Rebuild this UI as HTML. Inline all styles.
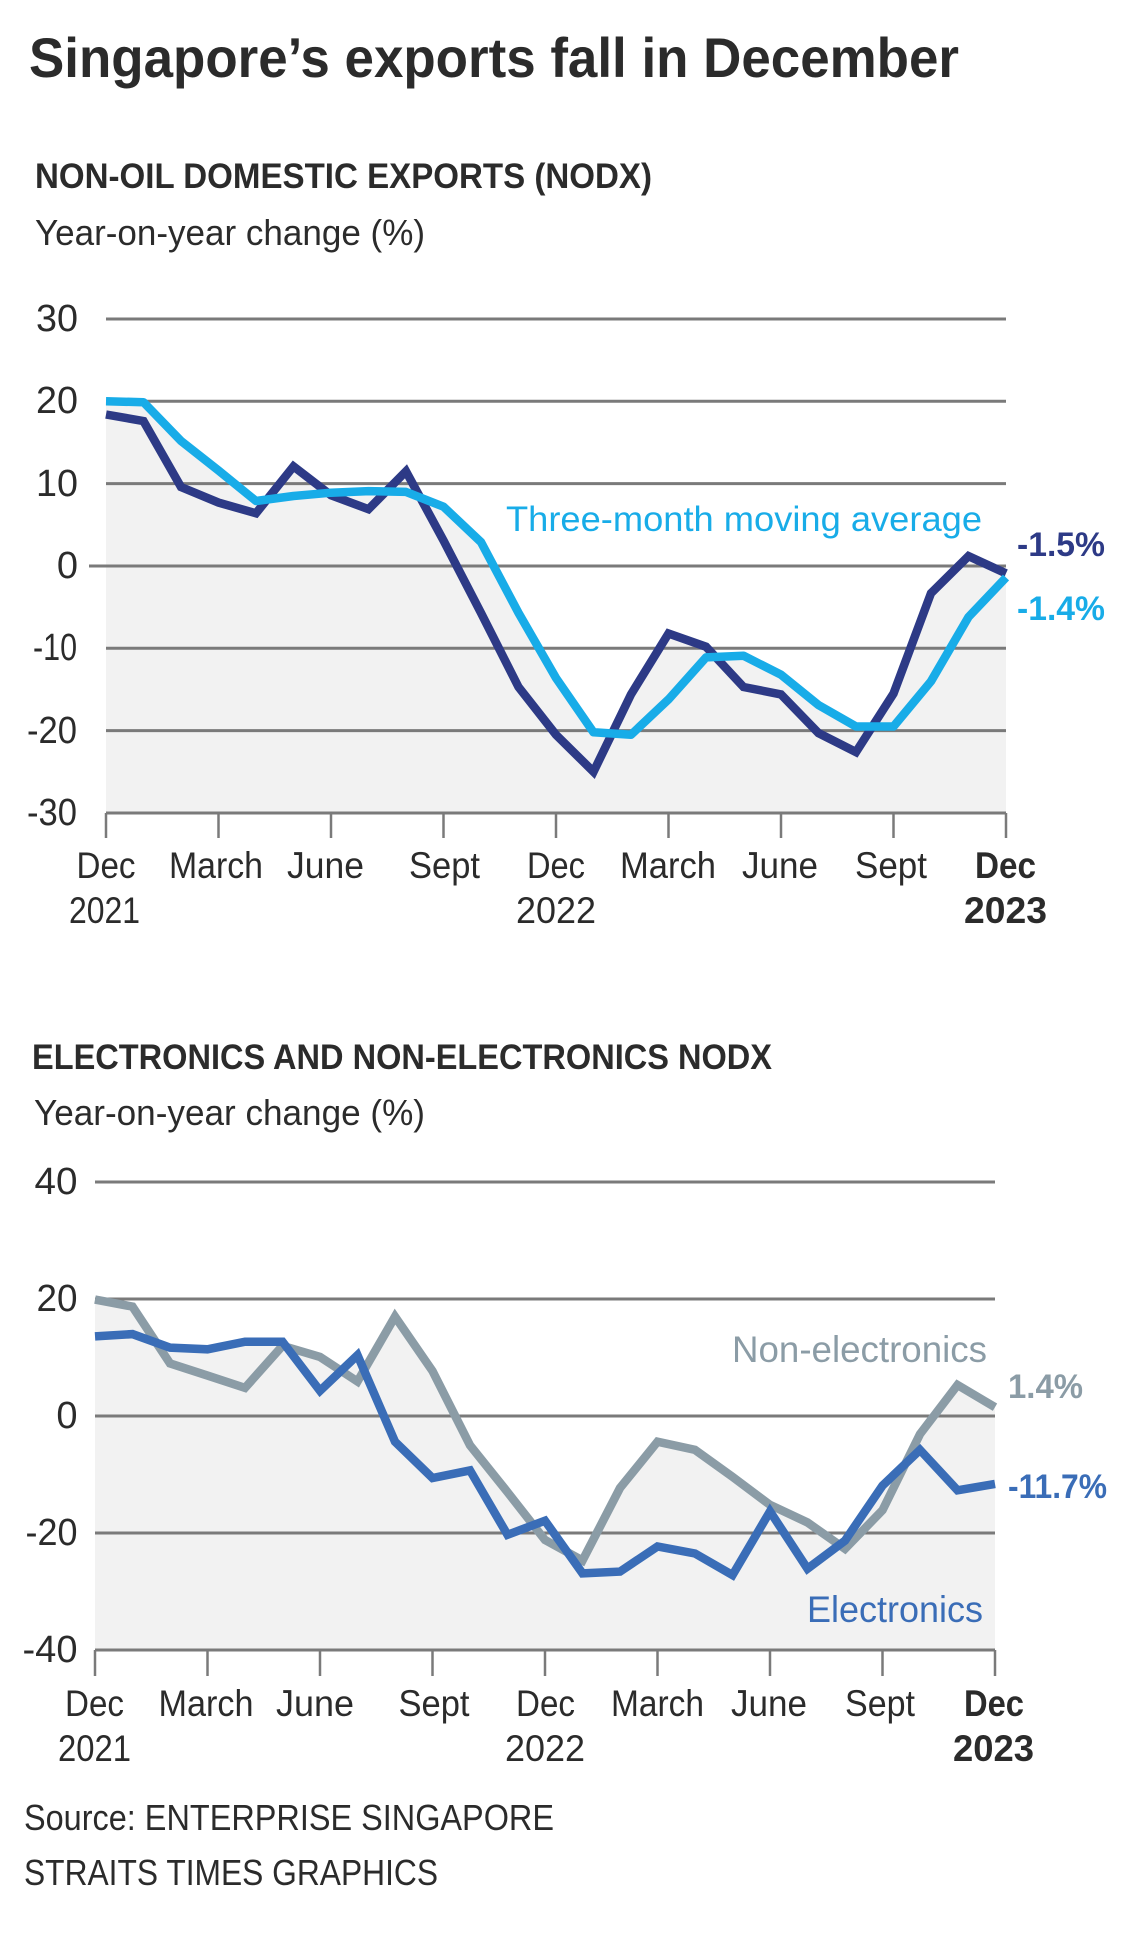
<!DOCTYPE html>
<html>
<head>
<meta charset="utf-8">
<style>
html,body{margin:0;padding:0;background:#fff;}
svg{display:block;}
text{font-family:"Liberation Sans",Arial,sans-serif;fill:#2b2b2b;}
.b{font-weight:bold;}
</style>
</head>
<body>
<svg width="1140" height="1934" viewBox="0 0 1140 1934" xmlns="http://www.w3.org/2000/svg">
<rect width="1140" height="1934" fill="#fff"/>

<!-- Title -->
<text x="29" y="77" font-size="56" class="b" textLength="930" lengthAdjust="spacingAndGlyphs">Singapore’s exports fall in December</text>

<!-- Chart 1 headings -->
<text x="35" y="188" font-size="35" class="b" textLength="617" lengthAdjust="spacingAndGlyphs">NON-OIL DOMESTIC EXPORTS (NODX)</text>
<text x="35" y="245" font-size="36" textLength="390" lengthAdjust="spacingAndGlyphs">Year-on-year change (%)</text>

<!-- Chart 1 fill -->
<g fill="#f2f2f2">
<polygon points="106,414.5 143.5,421.1 181,487 218.5,502.6 256,513.3 293.5,466.4 331,495.2 368.5,509.2 406,471.3 443.5,540.5 481,612.9 518.5,687 556,734.8 593.5,771.8 631,694.4 668.5,633.5 706,646.7 743.5,687 781,694.4 818.5,733.1 856,752.1 893.5,693.6 931,593.2 968.5,556.1 1006,573.4 1006,813 106,813"/>
<polygon points="106,401.3 143.5,402.2 181,440.9 218.5,470.5 256,501 293.5,496 331,492.7 368.5,491.1 406,491.9 443.5,506.7 481,542.1 518.5,612.9 556,678 593.5,732.3 631,734.8 668.5,699.4 706,657.4 743.5,655.7 781,674.7 818.5,705.1 856,726.5 893.5,726.5 931,681.3 968.5,617 1006,577.5 1006,813 106,813"/>
</g>

<!-- Chart 1 gridlines -->
<g stroke="#7a7a7a" stroke-width="3">
<line x1="106" y1="319" x2="1006" y2="319"/>
<line x1="106" y1="401.3" x2="1006" y2="401.3"/>
<line x1="106" y1="483.6" x2="1006" y2="483.6"/>
<line x1="89" y1="566" x2="1006" y2="566"/>
<line x1="106" y1="648.3" x2="1006" y2="648.3"/>
<line x1="106" y1="730.6" x2="1006" y2="730.6"/>
<line x1="106" y1="813" x2="1006" y2="813"/>
</g>
<g stroke="#7a7a7a" stroke-width="2.5">
<line x1="106" y1="813" x2="106" y2="838"/>
<line x1="218.5" y1="813" x2="218.5" y2="838"/>
<line x1="331" y1="813" x2="331" y2="838"/>
<line x1="443.5" y1="813" x2="443.5" y2="838"/>
<line x1="556" y1="813" x2="556" y2="838"/>
<line x1="668.5" y1="813" x2="668.5" y2="838"/>
<line x1="781" y1="813" x2="781" y2="838"/>
<line x1="893.5" y1="813" x2="893.5" y2="838"/>
<line x1="1006" y1="813" x2="1006" y2="838"/>
</g>

<!-- Chart 1 y labels -->
<g font-size="38" text-anchor="end">
<text x="78" y="331" textLength="42" lengthAdjust="spacingAndGlyphs">30</text>
<text x="78" y="413" textLength="42" lengthAdjust="spacingAndGlyphs">20</text>
<text x="78" y="496" textLength="42" lengthAdjust="spacingAndGlyphs">10</text>
<text x="78" y="578">0</text>
<text x="77" y="660" textLength="44" lengthAdjust="spacingAndGlyphs">-10</text>
<text x="77" y="743" textLength="50" lengthAdjust="spacingAndGlyphs">-20</text>
<text x="77" y="825" textLength="50" lengthAdjust="spacingAndGlyphs">-30</text>
</g>

<!-- Chart 1 x labels -->
<g font-size="37" text-anchor="middle">
<text x="106" y="878" textLength="59" lengthAdjust="spacingAndGlyphs">Dec</text>
<text x="104.5" y="923" textLength="71" lengthAdjust="spacingAndGlyphs">2021</text>
<text x="216" y="878" textLength="94" lengthAdjust="spacingAndGlyphs">March</text>
<text x="325.5" y="878" textLength="77" lengthAdjust="spacingAndGlyphs">June</text>
<text x="444.5" y="878" textLength="71" lengthAdjust="spacingAndGlyphs">Sept</text>
<text x="556" y="878" textLength="58" lengthAdjust="spacingAndGlyphs">Dec</text>
<text x="556" y="923" textLength="80" lengthAdjust="spacingAndGlyphs">2022</text>
<text x="668" y="878" textLength="96" lengthAdjust="spacingAndGlyphs">March</text>
<text x="780" y="878" textLength="76" lengthAdjust="spacingAndGlyphs">June</text>
<text x="891" y="878" textLength="72" lengthAdjust="spacingAndGlyphs">Sept</text>
<text x="1005.5" y="878" class="b" textLength="61" lengthAdjust="spacingAndGlyphs">Dec</text>
<text x="1005.5" y="923" class="b" textLength="83" lengthAdjust="spacingAndGlyphs">2023</text>
</g>

<!-- Chart 1 series -->
<polyline fill="none" stroke="#2d3a86" stroke-width="8.5" stroke-linejoin="miter" points="106,414.5 143.5,421.1 181,487 218.5,502.6 256,513.3 293.5,466.4 331,495.2 368.5,509.2 406,471.3 443.5,540.5 481,612.9 518.5,687 556,734.8 593.5,771.8 631,694.4 668.5,633.5 706,646.7 743.5,687 781,694.4 818.5,733.1 856,752.1 893.5,693.6 931,593.2 968.5,556.1 1006,573.4"/>
<polyline fill="none" stroke="#18ace8" stroke-width="8.5" stroke-linejoin="round" points="106,401.3 143.5,402.2 181,440.9 218.5,470.5 256,501 293.5,496 331,492.7 368.5,491.1 406,491.9 443.5,506.7 481,542.1 518.5,612.9 556,678 593.5,732.3 631,734.8 668.5,699.4 706,657.4 743.5,655.7 781,674.7 818.5,705.1 856,726.5 893.5,726.5 931,681.3 968.5,617 1006,577.5"/>

<!-- Chart 1 annotations -->
<text x="506" y="531" font-size="35" style="fill:#18ace8" textLength="476" lengthAdjust="spacingAndGlyphs">Three-month moving average</text>
<text x="1017" y="556" font-size="34" class="b" style="fill:#2d3a86" textLength="88" lengthAdjust="spacingAndGlyphs">-1.5%</text>
<text x="1017" y="620" font-size="34" class="b" style="fill:#18ace8" textLength="88" lengthAdjust="spacingAndGlyphs">-1.4%</text>

<!-- Chart 2 headings -->
<text x="32" y="1069" font-size="35" class="b" textLength="740" lengthAdjust="spacingAndGlyphs">ELECTRONICS AND NON-ELECTRONICS NODX</text>
<text x="34" y="1125" font-size="36" textLength="391" lengthAdjust="spacingAndGlyphs">Year-on-year change (%)</text>

<!-- Chart 2 fill -->
<g fill="#f2f2f2">
<polygon points="95,1336.4 132.5,1334.1 170,1347.6 207.5,1349.3 245,1341.7 282.5,1341.7 320,1390.8 357.5,1355.2 395,1441.7 432.5,1478 470,1470.4 507.5,1534.8 545,1520.7 582.5,1573.4 620,1571.6 657.5,1546.5 695,1553.5 732.5,1575.1 770,1511.4 807.5,1568.7 845,1540.6 882.5,1485.6 920,1449.9 957.5,1490.3 995,1483.9 995,1650 95,1650"/>
<polygon points="95,1299.6 132.5,1306.6 170,1363.4 207.5,1375.6 245,1387.9 282.5,1345.8 320,1356.9 357.5,1381.5 395,1316.6 432.5,1371 470,1445.3 507.5,1492.1 545,1540 582.5,1560.5 620,1488 657.5,1441.7 695,1449.9 732.5,1476.8 770,1504.9 807.5,1522.5 845,1548.8 882.5,1510.2 920,1434.1 957.5,1385 995,1407.2 995,1650 95,1650"/>
</g>

<!-- Chart 2 gridlines -->
<g stroke="#7a7a7a" stroke-width="3">
<line x1="95" y1="1182" x2="995" y2="1182"/>
<line x1="95" y1="1299" x2="995" y2="1299"/>
<line x1="95" y1="1416" x2="995" y2="1416"/>
<line x1="95" y1="1533" x2="995" y2="1533"/>
<line x1="95" y1="1650" x2="995" y2="1650"/>
</g>
<g stroke="#7a7a7a" stroke-width="2.5">
<line x1="95" y1="1650" x2="95" y2="1676"/>
<line x1="207.5" y1="1650" x2="207.5" y2="1676"/>
<line x1="320" y1="1650" x2="320" y2="1676"/>
<line x1="432.5" y1="1650" x2="432.5" y2="1676"/>
<line x1="545" y1="1650" x2="545" y2="1676"/>
<line x1="657.5" y1="1650" x2="657.5" y2="1676"/>
<line x1="770" y1="1650" x2="770" y2="1676"/>
<line x1="882.5" y1="1650" x2="882.5" y2="1676"/>
<line x1="995" y1="1650" x2="995" y2="1676"/>
</g>

<!-- Chart 2 y labels -->
<g font-size="38" text-anchor="end">
<text x="77.5" y="1194" textLength="43" lengthAdjust="spacingAndGlyphs">40</text>
<text x="77.5" y="1311" textLength="41" lengthAdjust="spacingAndGlyphs">20</text>
<text x="77.5" y="1428">0</text>
<text x="77.5" y="1545" textLength="52" lengthAdjust="spacingAndGlyphs">-20</text>
<text x="77.5" y="1662" textLength="55" lengthAdjust="spacingAndGlyphs">-40</text>
</g>

<!-- Chart 2 x labels -->
<g font-size="37" text-anchor="middle">
<text x="94.5" y="1716" textLength="59" lengthAdjust="spacingAndGlyphs">Dec</text>
<text x="94.5" y="1761" textLength="73" lengthAdjust="spacingAndGlyphs">2021</text>
<text x="206" y="1716" textLength="95" lengthAdjust="spacingAndGlyphs">March</text>
<text x="315" y="1716" textLength="78" lengthAdjust="spacingAndGlyphs">June</text>
<text x="434" y="1716" textLength="71" lengthAdjust="spacingAndGlyphs">Sept</text>
<text x="545.5" y="1716" textLength="59" lengthAdjust="spacingAndGlyphs">Dec</text>
<text x="545" y="1761" textLength="80" lengthAdjust="spacingAndGlyphs">2022</text>
<text x="657.5" y="1716" textLength="93" lengthAdjust="spacingAndGlyphs">March</text>
<text x="769" y="1716" textLength="76" lengthAdjust="spacingAndGlyphs">June</text>
<text x="880" y="1716" textLength="70" lengthAdjust="spacingAndGlyphs">Sept</text>
<text x="994" y="1716" class="b" textLength="60" lengthAdjust="spacingAndGlyphs">Dec</text>
<text x="993.5" y="1761" class="b" textLength="81" lengthAdjust="spacingAndGlyphs">2023</text>
</g>

<!-- Chart 2 series -->
<polyline fill="none" stroke="#8b9ca6" stroke-width="8.5" stroke-linejoin="miter" points="95,1299.6 132.5,1306.6 170,1363.4 207.5,1375.6 245,1387.9 282.5,1345.8 320,1356.9 357.5,1381.5 395,1316.6 432.5,1371 470,1445.3 507.5,1492.1 545,1540 582.5,1560.5 620,1488 657.5,1441.7 695,1449.9 732.5,1476.8 770,1504.9 807.5,1522.5 845,1548.8 882.5,1510.2 920,1434.1 957.5,1385 995,1407.2"/>
<polyline fill="none" stroke="#3a6db7" stroke-width="8.5" stroke-linejoin="miter" points="95,1336.4 132.5,1334.1 170,1347.6 207.5,1349.3 245,1341.7 282.5,1341.7 320,1390.8 357.5,1355.2 395,1441.7 432.5,1478 470,1470.4 507.5,1534.8 545,1520.7 582.5,1573.4 620,1571.6 657.5,1546.5 695,1553.5 732.5,1575.1 770,1511.4 807.5,1568.7 845,1540.6 882.5,1485.6 920,1449.9 957.5,1490.3 995,1483.9"/>

<!-- Chart 2 annotations -->
<text x="732" y="1362" font-size="37" style="fill:#8b9ca6" textLength="255" lengthAdjust="spacingAndGlyphs">Non-electronics</text>
<text x="807" y="1622" font-size="37" style="fill:#3a6db7" textLength="176" lengthAdjust="spacingAndGlyphs">Electronics</text>
<text x="1008" y="1398" font-size="34" class="b" style="fill:#8b9ca6" textLength="75" lengthAdjust="spacingAndGlyphs">1.4%</text>
<text x="1008" y="1498" font-size="34" class="b" style="fill:#3a6db7" textLength="99" lengthAdjust="spacingAndGlyphs">-11.7%</text>

<!-- Footer -->
<text x="24" y="1830" font-size="36" textLength="530" lengthAdjust="spacingAndGlyphs">Source: ENTERPRISE SINGAPORE</text>
<text x="24" y="1885" font-size="36" textLength="414" lengthAdjust="spacingAndGlyphs">STRAITS TIMES GRAPHICS</text>
</svg>
</body>
</html>
